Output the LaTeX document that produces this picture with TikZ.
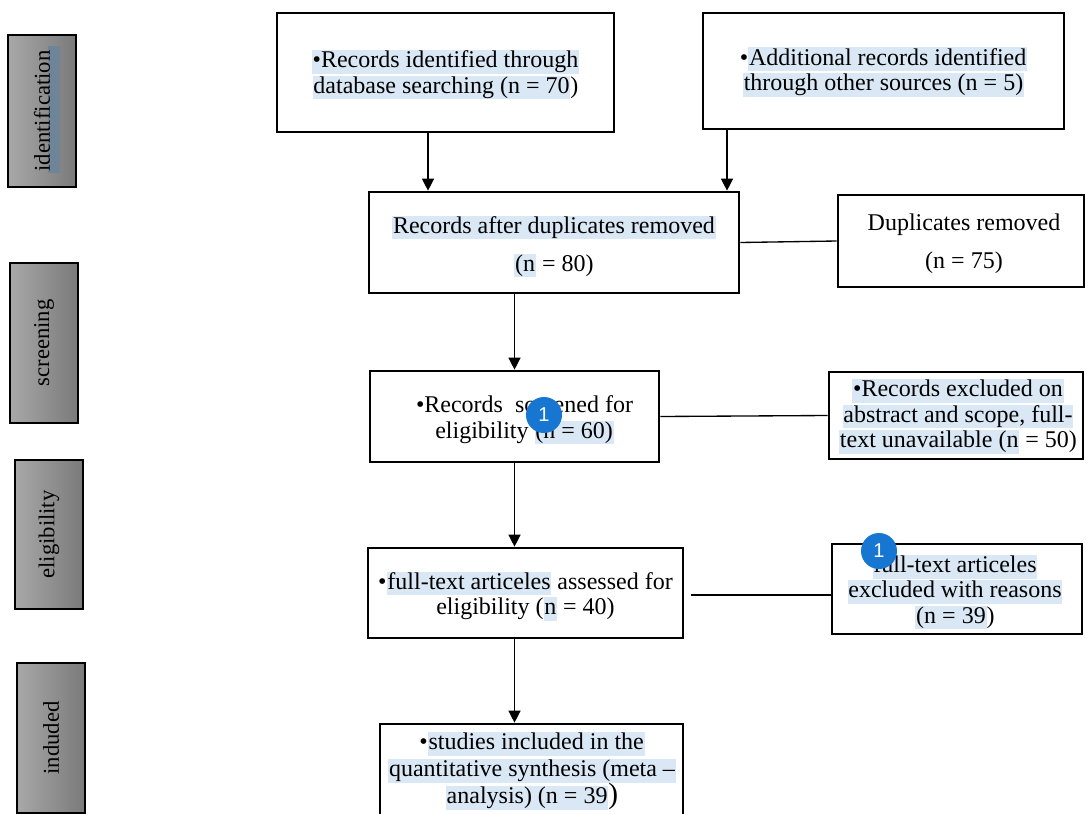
\documentclass[tikz,border=0pt]{standalone}
\usepackage{fontspec}
\setmainfont{Liberation Serif}
\newfontfamily\markfont{Liberation Sans}
\usetikzlibrary{fit,arrows.meta,calc}
\definecolor{hlc}{RGB}{218,232,246}
\definecolor{lgray}{RGB}{168,168,168}
\definecolor{dgray}{RGB}{122,122,122}
\definecolor{slate}{RGB}{112,132,152}
\definecolor{mblue}{RGB}{22,118,210}
\newcommand\hlx[1]{{\setlength{\fboxsep}{0.6pt}\colorbox{hlc}{\vphantom{(Ag}#1}}}
\begin{document}
\begin{tikzpicture}[x=0.75pt,y=-0.75pt,
  box/.style={draw=black, line width=2pt, inner sep=0pt},
  txt/.style={inner sep=0pt, align=center, font=\fontsize{18}{19}\selectfont},
  wide/.style={font=\fontsize{18}{28.5}\selectfont},
  side/.style={draw=black, line width=0.8pt, inner sep=0pt, left color=lgray, right color=dgray},
  sidetxt/.style={rotate=90, inner sep=0pt, font=\fontsize{17}{18}\selectfont},
  arr/.style={draw=black, line width=1pt, -{Triangle[width=9pt,length=9pt]}},
  conn/.style={draw=black, line width=1pt},
  marker/.style={circle, fill=mblue, text=white, minimum size=27pt, inner sep=0pt,
    font=\markfont\fontsize{15}{15}\selectfont}]
\useasboundingbox (0,0) rectangle (1086,814);

% side labels
\node[side, fit={(8,35)(76,187)}] (s1) {};
\fill[slate] (48,46) rectangle (60,173);
\node[sidetxt] (s1t) at (s1) {identification};
\node[side, fit={(10,263)(78,423)}] (s2) {};
\node[sidetxt] (s2t) at (s2) {screening};
\node[side, fit={(15,460)(83,609)}] (s3) {};
\node[sidetxt] (s3t) at (s3) {eligibility};
\node[side, fit={(17,663)(85,813)}] (s4) {};
\node[sidetxt] (s4t) at (s4) {induded};

% main boxes
\node[box, fit={(277,13)(614,132)}] (A) {};
\node[txt] (At) at ($(A.center)+(0,2)$) {\hlx{•Records identified through}\\\hlx{database searching (n = 70})};
\node[box, fit={(703,13)(1064,129)}] (B) {};
\node[txt] (Bt) at ($(B.center)+(0,1)$) {•\hlx{Additional records identified}\\\hlx{through other sources (n = 5)}};
\node[box, fit={(369,192)(739,293)}] (C) {};
\node[txt, wide] (Ct) at ($(C.center)+(0,4)$) {\hlx{Records after duplicates removed}\\\hlx{(n} = 80)};
\node[box, fit={(838,195)(1084,287)}] (D) {};
\node[txt, wide] (Dt) at ($(D.center)+(3,3)$) {Duplicates removed\\(n = 75)};
\node[box, fit={(370,371)(659,462)}] (E) {};
\node[txt] (Et) at (524.5,420) {•Records\ \ screened for\\eligibility \hlx{(n = 60)}};
\node[box, fit={(829,372)(1083,459)}] (F) {};
\node[txt] (Ft) at ($(F.center)+(2,1)$) {\hlx{•Records excluded on}\\\hlx{abstract and scope, full-}\\\hlx{text unavailable (n} = 50)};
\node[box, fit={(368,548)(683,638)}] (G) {};
\node[txt] (Gt) at ($(G.center)+(0,3)$) {•\hlx{full-text articeles} assessed for\\eligibility (\hlx{n} = 40)};
\node[box, fit={(832,544)(1082,634)}] (H) {};
\node[txt] (Ht) at ($(H.center)+(-2,3)$) {\hlx{full-text articeles}\\\hlx{excluded with reasons}\\\hlx{(n = 39})};
\node[box, fit={(380,724)(683,840)}] (I) {};
\node[txt, font=\fontsize{18}{20.25}\selectfont] (It) at (532,771) {•\hlx{studies included in the}\\\hlx{quantitative synthesis (meta –}\\\hlx{analysis) (n = 39}{\fontsize{22}{20}\selectfont )}};

% connectors
\coordinate (ax) at (428,0);
\coordinate (bx) at (727,0);
\coordinate (mx) at (514.5,0);
\draw[arr] (A.south -| ax) -- (C.north -| ax);
\draw[arr] ($(B.south -| bx)+(0,-2)$) -- (C.north -| bx);
\draw[arr] (C.south -| mx) -- (E.north -| mx);
\draw[arr] (E.south -| mx) -- (G.north -| mx);
\draw[arr] (G.south -| mx) -- (I.north -| mx);
\draw[conn] (C.east) -- (D.west);
\draw[conn] (E.east) -- (F.west);
\draw[conn] ($(G.east)+(7,2)$) -- ($(H.west |- G.east)+(0,2)$);

% comment markers
\node[marker] (m1) at (544,415) {1};
\node[marker] (m2) at (879,551) {1};
\end{tikzpicture}
\end{document}
